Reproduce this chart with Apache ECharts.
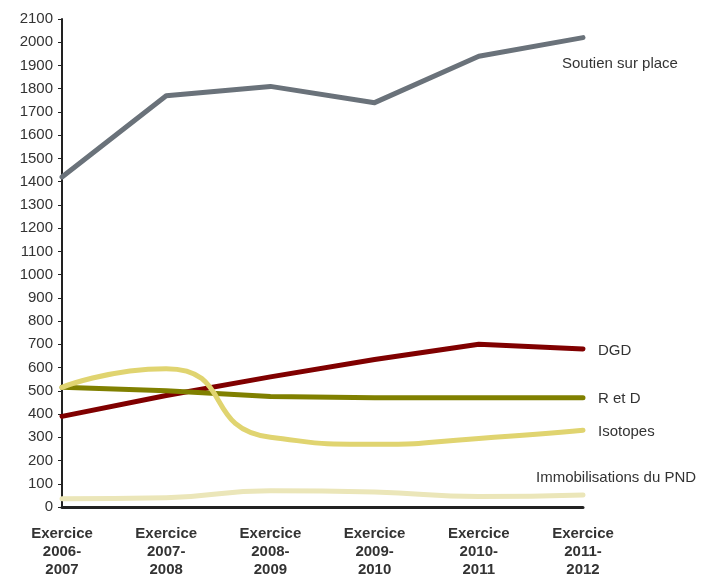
<!DOCTYPE html>
<html><head><meta charset="utf-8">
<script src="https://cdn.jsdelivr.net/npm/echarts@6/dist/echarts.min.js"></script>
<style>html,body{margin:0;padding:0;background:#fff}#c{width:711px;height:575px}</style>
</head><body><div id="c"></div>
<script>
const categories = ['Exercice\n2006-\n2007','Exercice\n2007-\n2008','Exercice\n2008-\n2009','Exercice\n2009-\n2010','Exercice\n2010-\n2011','Exercice\n2011-\n2012'];
const soutien = [1420, 1770, 1810, 1740, 1940, 2020];
const dgd = [390, 480, 560, 635, 700, 680];
const retd = [515, 500, 475, 470, 470, 470];
const isotopes = [515, 595, 300, 270, 295, 330];
const immob = [35, 40, 70, 65, 45, 52];
const seriesNames = ['Soutien sur place','DGD','R et D','Isotopes','Immobilisations du PND'];

const font = 'Liberation Sans, Arial, sans-serif';
function mk(name, data, color, smooth, offset) {
  return {
    name, type: 'line', data, smooth, symbol: 'none',
    lineStyle: {color, width: 5, cap: 'round', join: 'round'},
    itemStyle: {color},
    endLabel: {show: true, formatter: name, color: '#333', fontSize: 15, fontFamily: font,
      distance: 5, offset, align: 'left', verticalAlign: 'middle'},
    z: 3
  };
}
const chart = echarts.init(document.getElementById('c'));
chart.setOption({
  animation: false,
  grid: {left: 62, right: 128, top: 19, bottom: 68, containLabel: false, outerBoundsMode: 'none'},
  xAxis: {
    type: 'category', data: categories, boundaryGap: false,
    axisLine: {lineStyle: {color: '#222', width: 3}},
    axisTick: {show: false},
    axisLabel: {fontSize: 15, fontWeight: 'bold', color: '#333', fontFamily: font, lineHeight: 18, margin: 18, interval: 0},
    splitLine: {show: false}
  },
  yAxis: {
    type: 'value', min: 0, max: 2100, interval: 100,
    axisLine: {show: true, lineStyle: {color: '#222', width: 2}},
    axisTick: {show: true, length: 4, lineStyle: {color: '#222', width: 1}},
    axisLabel: {fontSize: 15, color: '#333', fontFamily: font, margin: 9, formatter: v => String(v)},
    splitLine: {show: false}
  },
  series: [
    mk(seriesNames[0], soutien, '#6a727a', false, [-26, 26]),
    mk(seriesNames[1], dgd, '#800000', false, [10, 2]),
    mk(seriesNames[2], retd, '#808000', false, [10, 1]),
    mk(seriesNames[3], isotopes, '#e0d470', 0.6, [10, 2]),
    mk(seriesNames[4], immob, '#ebe6b9', 0.5, [-52, -17])
  ]
});
</script></body></html>
